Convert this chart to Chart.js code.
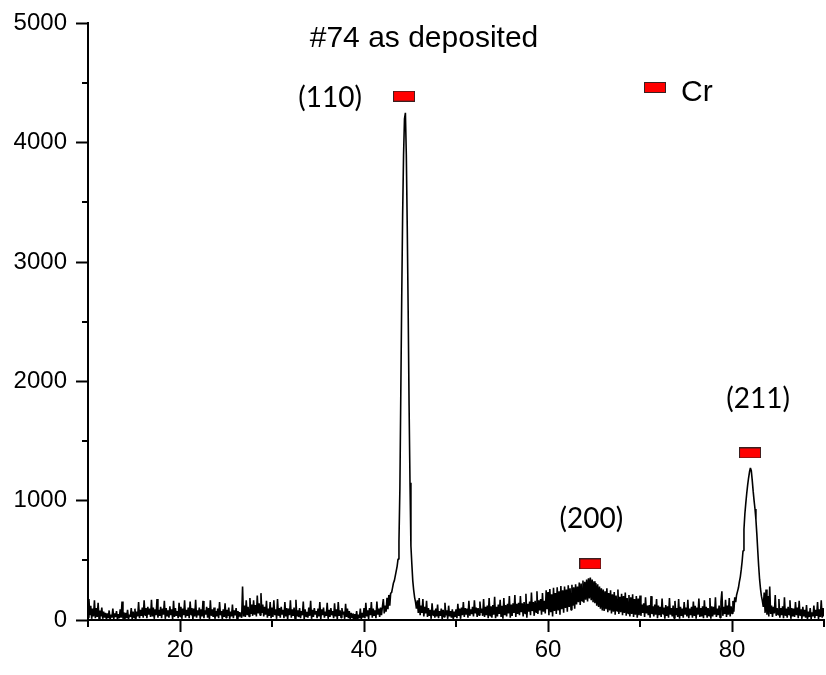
<!DOCTYPE html>
<html>
<head>
<meta charset="utf-8">
<title>#74 as deposited</title>
<script src="https://cdn.jsdelivr.net/npm/chart.js@4.4.1/dist/chart.umd.min.js"></script>
<style>
  html, body { margin: 0; padding: 0; background: #fff; }
  canvas { display: block; }
</style>
</head>
<body>
<canvas id="xrd" width="826" height="675"></canvas>
<script>
// XRD scan of sample #74 (as deposited), counts per 0.1 deg step of 2-theta.
const scanStep = 0.1;
const scan10to20 = [
  20,175,40,120,10,95,30,165,15,100,
  25,145,5,80,30,105,10,70,20,60,
  5,55,15,80,0,45,20,95,10,55,
  25,75,5,50,15,90,20,155,10,65,
  0,60,15,85,5,45,25,100,10,70,
  20,95,5,70,30,150,15,85,35,105,
  20,165,40,100,15,110,45,95,25,170,
  30,105,10,90,40,175,20,85,35,110,
  15,95,45,160,10,100,30,80,20,115,
  40,90,5,160,25,100,35,75,15,145
];
const scan20to30 = [
  30,110,10,95,40,165,20,85,35,105,
  15,155,45,100,5,95,30,170,20,80,
  40,105,10,90,30,160,15,80,45,110,
  20,100,5,165,35,90,25,105,10,75,
  30,95,15,150,40,75,5,90,25,140,
  20,85,35,105,10,70,30,130,15,80,
  40,100,5,75,25,65,35,20,280,30,
  120,25,165,40,110,30,185,50,130,35,
  165,45,125,30,205,55,140,40,225,60,
  130,30,110,45,160,20,95,35,150,15
];
const scan30to40 = [
  105,25,165,40,90,10,175,35,100,20,
  110,45,85,15,150,30,100,5,95,40,
  165,20,90,35,105,10,170,30,80,25,
  100,15,75,40,155,5,90,30,70,20,
  105,35,160,10,85,25,100,45,75,15,
  95,30,150,5,90,40,105,20,70,35,
  145,10,85,25,100,40,75,15,140,30,
  90,5,150,35,80,20,100,45,70,10,
  135,25,95,15,75,5,60,20,55,0,
  50,10,75,0,45,15,95,5,60,20
];
const scan40to50 = [
  100,15,145,30,80,10,100,40,150,20,
  95,35,80,15,155,45,95,25,105,40,
  110,175,55,120,70,185,90,210,120,225,
  230,270,310,330,370,410,450,510,660,1100,
  1900,2700,3400,3900,4200,4250,3900,3300,2600,1800,
  1150,620,470,330,250,190,150,95,165,60,
  185,40,120,60,175,30,110,55,160,25,
  100,35,85,10,140,40,80,20,95,30,
  130,15,75,35,95,5,85,25,145,40,
  80,10,120,30,75,20,90,5,70,25
];
const scan50to60 = [
  90,15,135,35,95,10,105,40,150,25,
  100,45,95,20,160,35,90,50,110,30,
  165,55,105,25,100,40,155,60,95,35,
  175,25,110,40,120,15,185,35,115,20,
  125,45,195,15,110,30,130,50,170,25,
  120,10,185,40,125,30,135,55,200,20,
  130,35,140,60,210,25,135,50,145,40,
  200,65,140,30,150,55,220,20,135,70,
  155,40,230,75,150,35,160,65,240,50,
  165,80,175,45,225,70,160,55,250,90
];
const scan60to70 = [
  235,40,260,65,215,30,270,75,225,50,
  275,80,240,45,285,90,250,60,280,100,
  255,70,290,110,265,85,295,120,275,95,
  300,130,280,150,315,125,305,160,330,145,
  320,170,340,155,350,180,355,165,340,150,
  325,140,310,120,300,110,280,95,265,80,
  255,75,240,90,265,65,225,80,250,55,
  215,70,235,45,205,75,255,50,195,65,
  220,40,200,60,230,35,185,55,210,30,
  190,50,215,25,175,45,200,20,180,40
];
const scan70to80 = [
  205,35,130,60,140,25,190,55,120,40,
  125,20,200,50,115,30,130,45,175,15,
  120,40,110,25,180,50,105,10,125,35,
  115,20,185,45,100,30,120,15,160,40,
  100,25,175,10,110,35,95,20,150,45,
  105,30,170,15,95,40,110,20,155,35,
  120,10,105,45,180,25,100,30,115,15,
  165,40,110,20,100,35,185,10,115,30,
  110,45,190,25,95,40,120,20,155,240,
  35,110,50,170,25,120,45,185,30,115
];
const scan80to90 = [
  55,160,70,190,150,210,240,270,320,360,
  420,490,580,760,890,980,1060,1130,1190,1240,
  1275,1250,1170,1080,1000,930,840,720,580,450,
  340,260,200,160,110,230,60,255,45,200,
  30,280,50,120,25,110,55,210,35,100,
  45,175,20,100,40,115,15,190,35,95,
  20,110,45,165,10,100,30,95,25,150,
  40,105,15,160,35,90,10,110,30,85,
  20,125,5,70,25,100,10,65,30,120,
  15,85,35,150,5,90,25,165,20,100,
  30
];
const scanStarts = [10, 20, 30, 40, 50, 60, 70, 80];
const scanBlocks = [scan10to20, scan20to30, scan30to40, scan40to50,
                    scan50to60, scan60to70, scan70to80, scan80to90];

// Cr reference reflections
const crPlanes = ['(110)', '(200)', '(211)'];
const crAngles = [44.35, 64.6, 81.96];
const crMarkerLevels = [4390, 470, 1400];

// axis ticks
const xMajorTicks = [20, 40, 60, 80];
const xMinorTicks = [10, 30, 50, 70, 90];
const yMajorTicks = [0, 1000, 2000, 3000, 4000, 5000];
const yMinorTicks = [500, 1500, 2500, 3500, 4500];

const scanPoints = [];
scanBlocks.forEach((block, b) => {
  block.forEach((counts, i) => {
    scanPoints.push({ x: Math.round((scanStarts[b] + i * scanStep) * 10) / 10, y: counts });
  });
});
const markerPoints = crAngles.map((a, i) => ({ x: a, y: crMarkerLevels[i] }));

// red bar used as the Cr phase marker
const markerImg = document.createElement('canvas');
markerImg.width = 22; markerImg.height = 11;
(function () {
  const c = markerImg.getContext('2d');
  c.fillStyle = '#ff0000';
  c.fillRect(0, 0, 22, 11);
  c.strokeStyle = '#3a2020';
  c.lineWidth = 1;
  c.strokeRect(0.5, 0.5, 21, 10);
})();

// label placement relative to each marker (px)
const labelOffsets = [ { dx: -74, dy: 11 }, { dx: 1, dy: -36 }, { dx: 8, dy: -45 } ];

const annotate = {
  id: 'annotate',
  afterDraw(chart) {
    const { ctx, scales: { x, y }, chartArea } = chart;
    ctx.save();
    // minor ticks
    ctx.strokeStyle = '#000';
    ctx.lineWidth = 2;
    ctx.beginPath();
    xMinorTicks.forEach(v => {
      const px = Math.round(x.getPixelForValue(v));
      ctx.moveTo(px, chartArea.bottom);
      ctx.lineTo(px, chartArea.bottom + 7);
    });
    yMinorTicks.forEach(v => {
      const py = Math.round(y.getPixelForValue(v));
      ctx.moveTo(chartArea.left - 6, py);
      ctx.lineTo(chartArea.left, py);
    });
    ctx.stroke();

    // title
    ctx.fillStyle = '#000';
    ctx.textBaseline = 'alphabetic';
    ctx.textAlign = 'center';
    ctx.font = '30px "Liberation Sans", Arial, sans-serif';
    ctx.fillText('#74 as deposited', 424, 47);

    // legend
    ctx.drawImage(markerImg, 644, 82);
    ctx.textAlign = 'left';
    ctx.fillText('Cr', 681, 101);

    // plane indices
    ctx.textAlign = 'center';
    ctx.font = '28px Lato, "Noto Sans", sans-serif';
    crPlanes.forEach((p, i) => {
      const px = x.getPixelForValue(crAngles[i]);
      const py = y.getPixelForValue(crMarkerLevels[i]);
      ctx.fillText(p, px + labelOffsets[i].dx, py + labelOffsets[i].dy);
    });
    ctx.restore();
  }
};

Chart.defaults.font.family = '"Liberation Sans", Arial, sans-serif';
Chart.defaults.color = '#000';

new Chart(document.getElementById('xrd'), {
  type: 'line',
  data: {
    datasets: [
      {
        data: scanPoints,
        borderColor: '#000',
        borderWidth: 1.6,
        borderJoinStyle: 'bevel',
        pointRadius: 0,
        tension: 0,
        fill: false,
        order: 1
      },
      {
        type: 'scatter',
        data: markerPoints,
        pointStyle: markerImg,
        pointRadius: 6,
        order: 0
      }
    ]
  },
  options: {
    responsive: false,
    animation: false,
    events: [],
    layout: { autoPadding: false, padding: { top: 20, right: 2, left: 0, bottom: 0 } },
    plugins: { legend: { display: false }, tooltip: { enabled: false }, title: { display: false } },
    scales: {
      x: {
        type: 'linear',
        min: 10,
        max: 90,
        afterFit(scale) { scale.height = 55; },
        afterBuildTicks(scale) { scale.ticks = xMajorTicks.map(v => ({ value: v })); },
        border: { display: true, color: '#000', width: 2 },
        grid: { display: true, drawOnChartArea: false, drawTicks: true, tickLength: 12, tickWidth: 2, tickColor: '#000' },
        ticks: { font: { size: 24 }, color: '#000', padding: 4, maxRotation: 0, autoSkip: false,
                 callback: v => String(v) }
      },
      y: {
        type: 'linear',
        min: 0,
        max: 5000,
        afterFit(scale) { scale.width = 88; },
        afterBuildTicks(scale) { scale.ticks = yMajorTicks.map(v => ({ value: v })); },
        border: { display: true, color: '#000', width: 2 },
        grid: { display: true, drawOnChartArea: false, drawTicks: true, tickLength: 12, tickWidth: 2, tickColor: '#000' },
        ticks: { font: { size: 24 }, color: '#000', padding: 9, autoSkip: false,
                 callback: v => String(v) }
      }
    }
  },
  plugins: [annotate]
});
</script>
</body>
</html>
